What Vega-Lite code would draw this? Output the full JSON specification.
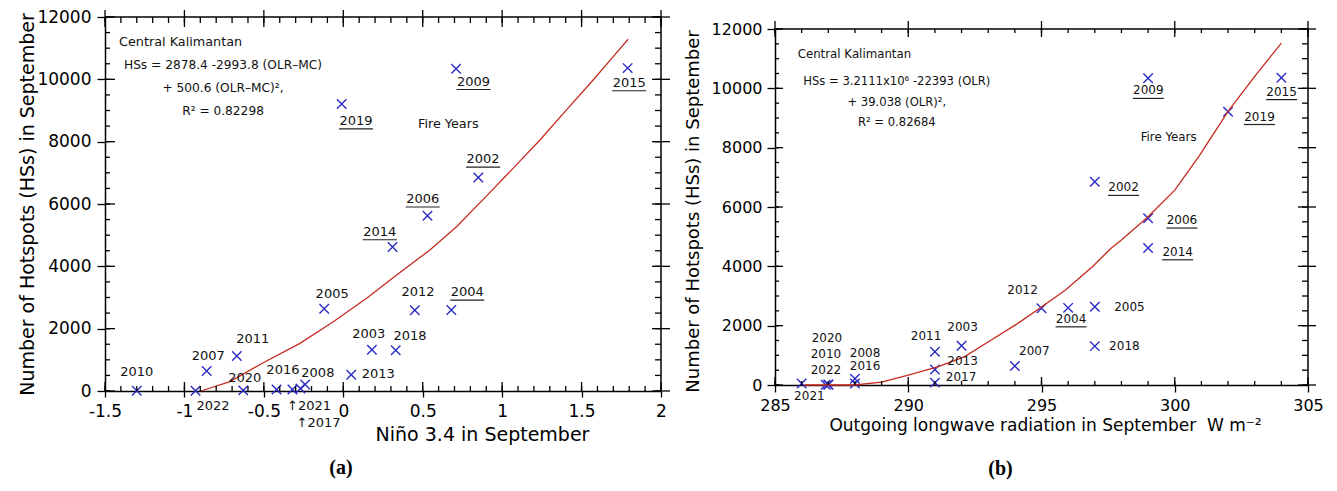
{
  "$schema": "https://vega.github.io/schema/vega-lite/v6.json",
  "padding": {"left": 18, "top": 8, "right": 5, "bottom": 5},
  "spacing": 13,
  "config": {
    "font": "DejaVu Sans",
    "view": {"stroke": null},
    "axis": {"grid": false, "domainColor": "#000", "tickColor": "#000", "labelColor": "#000", "titleColor": "#000", "labelFont": "DejaVu Sans", "titleFont": "DejaVu Sans", "tickWidth": 1.3, "domainWidth": 1.5, "titleFontWeight": "normal", "labelOverlap": false, "labelFlush": false},
    "rule": {"color": "#000", "strokeWidth": 1.3}
  },
  "datasets": {
    "yrs": [
      {"ta": "2002", "tb": "2002", "nino": 0.85, "olr": 297.0, "hs": 6850, "fire": true, "la_x": 0.88, "la_y": 7440, "lb_x": 298.08, "lb_y": 6660},
      {"ta": "2003", "tb": "2003", "nino": 0.18, "olr": 292.0, "hs": 1320, "fire": false, "la_x": 0.16, "la_y": 1830, "lb_x": 292.04, "lb_y": 1960},
      {"ta": "2004", "tb": "2004", "nino": 0.68, "olr": 296.0, "hs": 2600, "fire": true, "la_x": 0.78, "la_y": 3170, "lb_x": 296.11, "lb_y": 2230},
      {"ta": "2005", "tb": "2005", "nino": -0.12, "olr": 297.0, "hs": 2640, "fire": false, "la_x": -0.07, "la_y": 3110, "lb_x": 298.3, "lb_y": 2630},
      {"ta": "2006", "tb": "2006", "nino": 0.53, "olr": 299.0, "hs": 5620, "fire": true, "la_x": 0.50, "la_y": 6160, "lb_x": 300.27, "lb_y": 5560},
      {"ta": "2007", "tb": "2007", "nino": -0.86, "olr": 294.0, "hs": 640, "fire": false, "la_x": -0.85, "la_y": 1120, "lb_x": 294.73, "lb_y": 1150},
      {"ta": "2008", "tb": "2008", "nino": -0.24, "olr": 288.0, "hs": 210, "fire": false, "la_x": -0.16, "la_y": 590, "lb_x": 288.38, "lb_y": 1090},
      {"ta": "2009", "tb": "2009", "nino": 0.71, "olr": 299.0, "hs": 10340, "fire": true, "la_x": 0.82, "la_y": 9930, "lb_x": 299.01, "lb_y": 9930},
      {"ta": "2010", "tb": "2010", "nino": -1.3, "olr": 286.9, "hs": 10, "fire": false, "la_x": -1.30, "la_y": 620, "lb_x": 286.91, "lb_y": 1030},
      {"ta": "2011", "tb": "2011", "nino": -0.67, "olr": 291.0, "hs": 1120, "fire": false, "la_x": -0.57, "la_y": 1670, "lb_x": 290.67, "lb_y": 1640},
      {"ta": "2012", "tb": "2012", "nino": 0.45, "olr": 295.0, "hs": 2590, "fire": false, "la_x": 0.47, "la_y": 3170, "lb_x": 294.29, "lb_y": 3200},
      {"ta": "2013", "tb": "2013", "nino": 0.05, "olr": 291.0, "hs": 520, "fire": false, "la_x": 0.22, "la_y": 545, "lb_x": 292.04, "lb_y": 800},
      {"ta": "2014", "tb": "2014", "nino": 0.31, "olr": 299.0, "hs": 4620, "fire": true, "la_x": 0.23, "la_y": 5110, "lb_x": 300.11, "lb_y": 4490},
      {"ta": "2015", "tb": "2015", "nino": 1.79, "olr": 304.0, "hs": 10360, "fire": true, "la_x": 1.80, "la_y": 9890, "lb_x": 304.01, "lb_y": 9890},
      {"ta": "2016", "tb": "2016", "nino": -0.42, "olr": 288.0, "hs": 50, "fire": false, "la_x": -0.38, "la_y": 670, "lb_x": 288.38, "lb_y": 630},
      {"ta": "↑2017", "tb": "2017", "nino": -0.27, "olr": 291.0, "hs": 80, "fire": false, "la_x": -0.156, "la_y": -1020, "lb_x": 291.98, "lb_y": 270},
      {"ta": "2018", "tb": "2018", "nino": 0.33, "olr": 297.0, "hs": 1310, "fire": false, "la_x": 0.42, "la_y": 1780, "lb_x": 298.11, "lb_y": 1320},
      {"ta": "2019", "tb": "2019", "nino": -0.01, "olr": 302.0, "hs": 9210, "fire": true, "la_x": 0.08, "la_y": 8670, "lb_x": 303.18, "lb_y": 9050},
      {"ta": "2020", "tb": "2020", "nino": -0.63, "olr": 287.0, "hs": 20, "fire": false, "la_x": -0.62, "la_y": 410, "lb_x": 286.95, "lb_y": 1570},
      {"ta": "↑2021", "tb": "2021", "nino": -0.32, "olr": 286.0, "hs": 50, "fire": false, "la_x": -0.216, "la_y": -480, "lb_x": 286.29, "lb_y": -380},
      {"ta": "2022", "tb": "2022", "nino": -0.93, "olr": 287.0, "hs": 5, "fire": false, "la_x": -0.82, "la_y": -480, "lb_x": 286.91, "lb_y": 500}
    ],
    "fita": [
      {"x": -0.896, "y": 0}, {"x": -0.713, "y": 300}, {"x": -0.504, "y": 908}, {"x": -0.273, "y": 1530},
      {"x": -0.063, "y": 2224}, {"x": 0.147, "y": 2975}, {"x": 0.336, "y": 3722}, {"x": 0.545, "y": 4525},
      {"x": 0.713, "y": 5273}, {"x": 0.91, "y": 6300}, {"x": 1.07, "y": 7150}, {"x": 1.238, "y": 8055},
      {"x": 1.405, "y": 9018}, {"x": 1.573, "y": 9980}, {"x": 1.699, "y": 10728}, {"x": 1.793, "y": 11286}
    ],
    "fitb": [
      {"x": 286.1, "y": 0}, {"x": 287.4, "y": 0}, {"x": 288.0, "y": 0}, {"x": 289.0, "y": 100},
      {"x": 290.0, "y": 330}, {"x": 291.1, "y": 610}, {"x": 292.1, "y": 950}, {"x": 293.1, "y": 1510},
      {"x": 294.1, "y": 2070}, {"x": 295.0, "y": 2630}, {"x": 295.9, "y": 3200}, {"x": 296.9, "y": 3980},
      {"x": 297.6, "y": 4600}, {"x": 298.0, "y": 4890}, {"x": 299.0, "y": 5670}, {"x": 300.0, "y": 6570},
      {"x": 300.9, "y": 7700}, {"x": 302.0, "y": 9220}, {"x": 303.0, "y": 10400}, {"x": 304.0, "y": 11525}
    ],
    "lefta": [
      {"t": "Central Kalimantan", "x": -1.412, "y": 11199},
      {"t": "Fire Years", "x": 0.470, "y": 8568}
    ],
    "forma": [
      {"t": "HSs = 2878.4 -2993.8 (OLR–MC)", "x": -0.757, "y": 10461},
      {"t": "+ 500.6 (OLR–MC)²,", "x": -0.757, "y": 9723},
      {"t": "R² = 0.82298", "x": -0.757, "y": 8985}
    ],
    "leftb": [
      {"t": "Central Kalimantan", "x": 285.85, "y": 11164},
      {"t": "Fire Years", "x": 298.72, "y": 8352}
    ],
    "formb": [
      {"t": "HSs = 3.2111x10⁶ -22393 (OLR)", "x": 289.57, "y": 10229},
      {"t": "+ 39.038 (OLR)²,", "x": 289.57, "y": 9520},
      {"t": "R² = 0.82684", "x": 289.57, "y": 8845}
    ],
    "txa": [
      {"v": -1.5, "major": true}, {"v": -1.4, "major": false}, {"v": -1.3, "major": false}, {"v": -1.2, "major": false}, {"v": -1.1, "major": false},
      {"v": -1.0, "major": true}, {"v": -0.9, "major": false}, {"v": -0.8, "major": false}, {"v": -0.7, "major": false}, {"v": -0.6, "major": false},
      {"v": -0.5, "major": true}, {"v": -0.4, "major": false}, {"v": -0.3, "major": false}, {"v": -0.2, "major": false}, {"v": -0.1, "major": false},
      {"v": 0.0, "major": true}, {"v": 0.1, "major": false}, {"v": 0.2, "major": false}, {"v": 0.3, "major": false}, {"v": 0.4, "major": false},
      {"v": 0.5, "major": true}, {"v": 0.6, "major": false}, {"v": 0.7, "major": false}, {"v": 0.8, "major": false}, {"v": 0.9, "major": false},
      {"v": 1.0, "major": true}, {"v": 1.1, "major": false}, {"v": 1.2, "major": false}, {"v": 1.3, "major": false}, {"v": 1.4, "major": false},
      {"v": 1.5, "major": true}, {"v": 1.6, "major": false}, {"v": 1.7, "major": false}, {"v": 1.8, "major": false}, {"v": 1.9, "major": false},
      {"v": 2.0, "major": true}
    ],
    "txb": [
      {"v": 285, "major": true}, {"v": 286, "major": false}, {"v": 287, "major": false}, {"v": 288, "major": false}, {"v": 289, "major": false},
      {"v": 290, "major": true}, {"v": 291, "major": false}, {"v": 292, "major": false}, {"v": 293, "major": false}, {"v": 294, "major": false},
      {"v": 295, "major": true}, {"v": 296, "major": false}, {"v": 297, "major": false}, {"v": 298, "major": false}, {"v": 299, "major": false},
      {"v": 300, "major": true}, {"v": 301, "major": false}, {"v": 302, "major": false}, {"v": 303, "major": false}, {"v": 304, "major": false},
      {"v": 305, "major": true}
    ],
    "ty": [
      {"v": 0, "major": true}, {"v": 500, "major": false}, {"v": 1000, "major": false}, {"v": 1500, "major": false},
      {"v": 2000, "major": true}, {"v": 2500, "major": false}, {"v": 3000, "major": false}, {"v": 3500, "major": false},
      {"v": 4000, "major": true}, {"v": 4500, "major": false}, {"v": 5000, "major": false}, {"v": 5500, "major": false},
      {"v": 6000, "major": true}, {"v": 6500, "major": false}, {"v": 7000, "major": false}, {"v": 7500, "major": false},
      {"v": 8000, "major": true}, {"v": 8500, "major": false}, {"v": 9000, "major": false}, {"v": 9500, "major": false},
      {"v": 10000, "major": true}, {"v": 10500, "major": false}, {"v": 11000, "major": false}, {"v": 11500, "major": false},
      {"v": 12000, "major": true}
    ]
  },
  "hconcat": [
    {
      "width": 556,
      "height": 374,
      "title": {"text": "(a)", "orient": "bottom", "anchor": "middle", "font": "Liberation Serif", "fontWeight": "bold", "fontSize": 20, "offset": 14, "dx": -42, "color": "#000"},
      "resolve": {"axis": {"x": "independent", "y": "independent"}},
      "layer": [
        {
          "data": {"name": "yrs"},
          "mark": {"type": "point", "shape": "M-1,-1L1,1M1,-1L-1,1", "filled": false, "size": 90, "strokeWidth": 1.4, "color": "#2b2bc4", "opacity": 1},
          "encoding": {
            "x": {"field": "nino", "type": "quantitative", "scale": {"domain": [-1.5, 2], "nice": false, "zero": false},
              "axis": {"orient": "bottom", "values": [-1.5, -1, -0.5, 0, 0.5, 1, 1.5, 2], "tickSize": 6, "labelPadding": 6, "labelFontSize": 17,
                "labelExpr": "datum.value < 0 ? '-' + format(-datum.value, '~g') : format(datum.value, '~g')",
                "title": "Niño 3.4 in September", "titleFontSize": 19, "titlePadding": 6, "titleX": 377}},
            "y": {"field": "hs", "type": "quantitative", "scale": {"domain": [0, 12000], "nice": false, "zero": false},
              "axis": {"orient": "left", "values": [0, 2000, 4000, 6000, 8000, 10000, 12000], "format": "d", "tickSize": 8, "labelPadding": 6, "labelFontSize": 17,
                "title": "Number of Hotspots (HSs) in September", "titleFontSize": 19, "titlePadding": -1}}
          }
        },
        {
          "data": {"name": "fita"},
          "mark": {"type": "line", "color": "#c62a1f", "strokeWidth": 1.3},
          "encoding": {
            "x": {"field": "x", "type": "quantitative", "axis": null},
            "y": {"field": "y", "type": "quantitative", "axis": null}
          }
        },
        {
          "data": {"name": "yrs"},
          "mark": {"type": "text", "fontSize": 13, "align": "center", "baseline": "middle", "color": "#111"},
          "encoding": {
            "x": {"field": "la_x", "type": "quantitative", "axis": null},
            "y": {"field": "la_y", "type": "quantitative", "axis": null},
            "text": {"field": "ta", "type": "nominal"}
          }
        },
        {
          "data": {"name": "yrs"},
          "transform": [{"filter": "datum.fire"}],
          "mark": {"type": "tick", "orient": "horizontal", "size": 34, "thickness": 1.2, "yOffset": 8, "color": "#222", "opacity": 1},
          "encoding": {
            "x": {"field": "la_x", "type": "quantitative", "axis": null},
            "y": {"field": "la_y", "type": "quantitative", "axis": null}
          }
        },
        {
          "data": {"name": "lefta"},
          "mark": {"type": "text", "fontSize": 12.8, "align": "left", "baseline": "middle", "color": "#111"},
          "encoding": {
            "x": {"field": "x", "type": "quantitative", "axis": null},
            "y": {"field": "y", "type": "quantitative", "axis": null},
            "text": {"field": "t", "type": "nominal"}
          }
        },
        {
          "data": {"name": "forma"},
          "mark": {"type": "text", "fontSize": 12.2, "align": "center", "baseline": "middle", "color": "#111"},
          "encoding": {
            "x": {"field": "x", "type": "quantitative", "axis": null},
            "y": {"field": "y", "type": "quantitative", "axis": null},
            "text": {"field": "t", "type": "nominal"}
          }
        },
        {
          "data": {"name": "txa"},
          "transform": [{"filter": "datum.major"}],
          "mark": {"type": "rule", "y2Offset": -9},
          "encoding": {"x": {"field": "v", "type": "quantitative", "axis": null}, "y": {"datum": 0, "type": "quantitative", "axis": null}, "y2": {"datum": 0}}
        },
        {
          "data": {"name": "txa"},
          "mark": {"type": "rule", "y2Offset": -5},
          "encoding": {"x": {"field": "v", "type": "quantitative", "axis": null}, "y": {"datum": 0, "type": "quantitative", "axis": null}, "y2": {"datum": 0}}
        },
        {
          "data": {"name": "txa"},
          "transform": [{"filter": "datum.major"}],
          "mark": {"type": "rule", "yOffset": -7, "y2Offset": 10},
          "encoding": {"x": {"field": "v", "type": "quantitative", "axis": null}, "y": {"datum": 12000, "type": "quantitative", "axis": null}, "y2": {"datum": 12000}}
        },
        {
          "data": {"name": "txa"},
          "mark": {"type": "rule", "y2Offset": 6},
          "encoding": {"x": {"field": "v", "type": "quantitative", "axis": null}, "y": {"datum": 12000, "type": "quantitative", "axis": null}, "y2": {"datum": 12000}}
        },
        {
          "data": {"name": "ty"},
          "transform": [{"filter": "datum.major"}],
          "mark": {"type": "rule", "x2Offset": 10},
          "encoding": {"y": {"field": "v", "type": "quantitative", "axis": null}, "x": {"datum": -1.5, "type": "quantitative", "axis": null}, "x2": {"datum": -1.5}}
        },
        {
          "data": {"name": "ty"},
          "mark": {"type": "rule", "x2Offset": 5},
          "encoding": {"y": {"field": "v", "type": "quantitative", "axis": null}, "x": {"datum": -1.5, "type": "quantitative", "axis": null}, "x2": {"datum": -1.5}}
        },
        {
          "data": {"name": "ty"},
          "transform": [{"filter": "datum.major"}],
          "mark": {"type": "rule", "xOffset": 9, "x2Offset": -9},
          "encoding": {"y": {"field": "v", "type": "quantitative", "axis": null}, "x": {"datum": 2, "type": "quantitative", "axis": null}, "x2": {"datum": 2}}
        },
        {
          "data": {"name": "ty"},
          "mark": {"type": "rule", "x2Offset": -6},
          "encoding": {"y": {"field": "v", "type": "quantitative", "axis": null}, "x": {"datum": 2, "type": "quantitative", "axis": null}, "x2": {"datum": 2}}
        },
        {
          "data": {"name": "ty"},
          "transform": [{"filter": "datum.v === 12000"}],
          "mark": {"type": "rule", "strokeWidth": 1.5},
          "encoding": {"y": {"field": "v", "type": "quantitative", "axis": null}}
        },
        {
          "data": {"name": "txa"},
          "transform": [{"filter": "datum.v === 2"}],
          "mark": {"type": "rule", "strokeWidth": 1.5},
          "encoding": {"x": {"field": "v", "type": "quantitative", "axis": null}}
        }
      ]
    },
    {
      "width": 533,
      "height": 368,
      "title": {"text": "(b)", "orient": "bottom", "anchor": "middle", "font": "Liberation Serif", "fontWeight": "bold", "fontSize": 20, "offset": 26, "dx": -41, "color": "#000"},
      "resolve": {"axis": {"x": "independent", "y": "independent"}},
      "layer": [
        {
          "data": {"name": "yrs"},
          "mark": {"type": "point", "shape": "M-1,-1L1,1M1,-1L-1,1", "filled": false, "size": 90, "strokeWidth": 1.4, "color": "#2b2bc4", "opacity": 1},
          "encoding": {
            "x": {"field": "olr", "type": "quantitative", "scale": {"domain": [285, 305], "nice": false, "zero": false},
              "axis": {"orient": "bottom", "values": [285, 290, 295, 300, 305], "format": "d", "tickSize": 7, "labelPadding": 5, "labelFontSize": 16,
                "title": "Outgoing longwave radiation in September\u00a0 W m⁻²", "titleFontSize": 17, "titlePadding": 4, "titleX": 270}},
            "y": {"field": "hs", "type": "quantitative", "scale": {"domain": [0, 12000], "range": [368, 12], "nice": false, "zero": false},
              "axis": {"orient": "left", "values": [0, 2000, 4000, 6000, 8000, 10000, 12000], "format": "d", "tickSize": 8, "labelPadding": 5, "labelFontSize": 16,
                "title": "Number of Hotspots (HSs) in September", "titleFontSize": 18, "titlePadding": 9, "titleY": 194}}
          }
        },
        {
          "data": {"name": "fitb"},
          "mark": {"type": "line", "color": "#c62a1f", "strokeWidth": 1.3},
          "encoding": {
            "x": {"field": "x", "type": "quantitative", "axis": null},
            "y": {"field": "y", "type": "quantitative", "axis": null}
          }
        },
        {
          "data": {"name": "yrs"},
          "mark": {"type": "text", "fontSize": 12, "align": "center", "baseline": "middle", "color": "#111"},
          "encoding": {
            "x": {"field": "lb_x", "type": "quantitative", "axis": null},
            "y": {"field": "lb_y", "type": "quantitative", "axis": null},
            "text": {"field": "tb", "type": "nominal"}
          }
        },
        {
          "data": {"name": "yrs"},
          "transform": [{"filter": "datum.fire"}],
          "mark": {"type": "tick", "orient": "horizontal", "size": 31, "thickness": 1.2, "yOffset": 8, "color": "#222", "opacity": 1},
          "encoding": {
            "x": {"field": "lb_x", "type": "quantitative", "axis": null},
            "y": {"field": "lb_y", "type": "quantitative", "axis": null}
          }
        },
        {
          "data": {"name": "leftb"},
          "mark": {"type": "text", "fontSize": 11.8, "align": "left", "baseline": "middle", "color": "#111"},
          "encoding": {
            "x": {"field": "x", "type": "quantitative", "axis": null},
            "y": {"field": "y", "type": "quantitative", "axis": null},
            "text": {"field": "t", "type": "nominal"}
          }
        },
        {
          "data": {"name": "formb"},
          "mark": {"type": "text", "fontSize": 11.6, "align": "center", "baseline": "middle", "color": "#111"},
          "encoding": {
            "x": {"field": "x", "type": "quantitative", "axis": null},
            "y": {"field": "y", "type": "quantitative", "axis": null},
            "text": {"field": "t", "type": "nominal"}
          }
        },
        {
          "data": {"name": "txb"},
          "transform": [{"filter": "datum.major"}],
          "mark": {"type": "rule", "y2Offset": -8},
          "encoding": {"x": {"field": "v", "type": "quantitative", "axis": null}, "y": {"datum": 0, "type": "quantitative", "axis": null}, "y2": {"datum": 0}}
        },
        {
          "data": {"name": "txb"},
          "mark": {"type": "rule", "y2Offset": -4},
          "encoding": {"x": {"field": "v", "type": "quantitative", "axis": null}, "y": {"datum": 0, "type": "quantitative", "axis": null}, "y2": {"datum": 0}}
        },
        {
          "data": {"name": "txb"},
          "transform": [{"filter": "datum.major"}],
          "mark": {"type": "rule", "yOffset": -8, "y2Offset": 8},
          "encoding": {"x": {"field": "v", "type": "quantitative", "axis": null}, "y": {"datum": 12000, "type": "quantitative", "axis": null}, "y2": {"datum": 12000}}
        },
        {
          "data": {"name": "txb"},
          "mark": {"type": "rule", "y2Offset": 4},
          "encoding": {"x": {"field": "v", "type": "quantitative", "axis": null}, "y": {"datum": 12000, "type": "quantitative", "axis": null}, "y2": {"datum": 12000}}
        },
        {
          "data": {"name": "ty"},
          "transform": [{"filter": "datum.major"}],
          "mark": {"type": "rule", "x2Offset": 8},
          "encoding": {"y": {"field": "v", "type": "quantitative", "axis": null}, "x": {"datum": 285, "type": "quantitative", "axis": null}, "x2": {"datum": 285}}
        },
        {
          "data": {"name": "ty"},
          "mark": {"type": "rule", "x2Offset": 4},
          "encoding": {"y": {"field": "v", "type": "quantitative", "axis": null}, "x": {"datum": 285, "type": "quantitative", "axis": null}, "x2": {"datum": 285}}
        },
        {
          "data": {"name": "ty"},
          "transform": [{"filter": "datum.major"}],
          "mark": {"type": "rule", "xOffset": 8, "x2Offset": -10},
          "encoding": {"y": {"field": "v", "type": "quantitative", "axis": null}, "x": {"datum": 305, "type": "quantitative", "axis": null}, "x2": {"datum": 305}}
        },
        {
          "data": {"name": "ty"},
          "mark": {"type": "rule", "x2Offset": -6},
          "encoding": {"y": {"field": "v", "type": "quantitative", "axis": null}, "x": {"datum": 305, "type": "quantitative", "axis": null}, "x2": {"datum": 305}}
        },
        {
          "data": {"name": "ty"},
          "transform": [{"filter": "datum.v === 12000"}],
          "mark": {"type": "rule", "strokeWidth": 1.5},
          "encoding": {"y": {"field": "v", "type": "quantitative", "axis": null}, "x": {"datum": 285, "type": "quantitative", "axis": null}, "x2": {"datum": 305}}
        },
        {
          "data": {"name": "txb"},
          "transform": [{"filter": "datum.v === 305"}],
          "mark": {"type": "rule", "strokeWidth": 1.5},
          "encoding": {"x": {"field": "v", "type": "quantitative", "axis": null}, "y": {"datum": 0, "type": "quantitative", "axis": null}, "y2": {"datum": 12000}}
        }
      ]
    }
  ]
}
